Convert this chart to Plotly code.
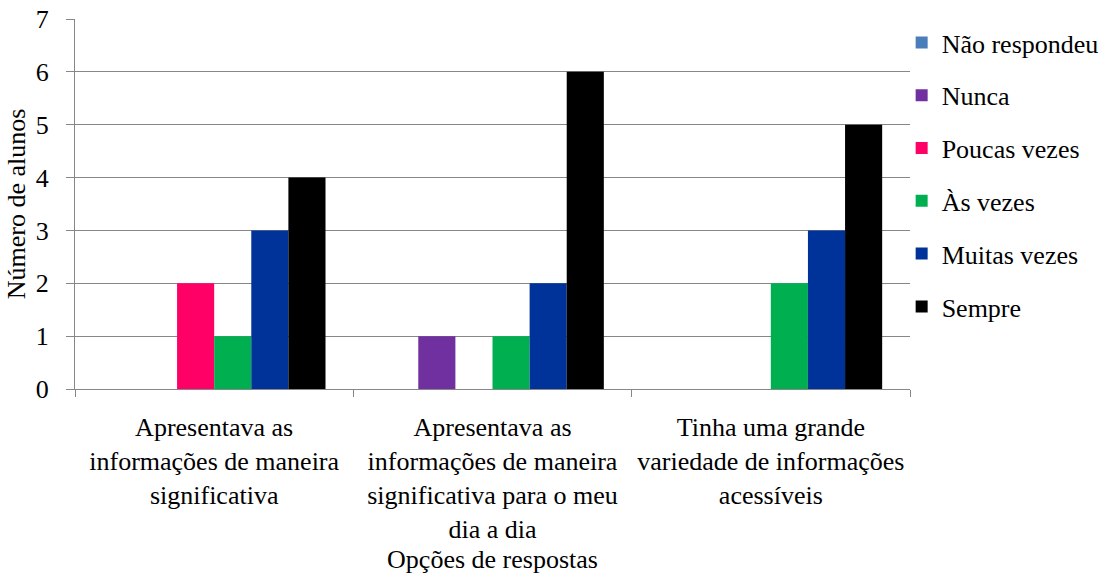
import plotly.graph_objects as go

categories = [
    "Apresentava as<br>informações de maneira<br>significativa",
    "Apresentava as<br>informações de maneira<br>significativa para o meu<br>dia a dia",
    "Tinha uma grande<br>variedade de informações<br>acessíveis",
]
series_names = ["Não respondeu", "Nunca", "Poucas vezes", "Às vezes", "Muitas vezes", "Sempre"]
nao_respondeu = [0, 0, 0]
nunca = [0, 1, 0]
poucas_vezes = [2, 0, 0]
as_vezes = [1, 1, 2]
muitas_vezes = [3, 2, 3]
sempre = [4, 6, 5]
series_values = [nao_respondeu, nunca, poucas_vezes, as_vezes, muitas_vezes, sempre]
colors = ["#4A7EBB", "#7030A0", "#FF0066", "#00B050", "#003399", "#000000"]
y_ticks = [0, 1, 2, 3, 4, 5, 6, 7]

FONT = "Liberation Serif"
GRID = "#878787"

fig = go.Figure()
for name, vals, col in zip(series_names, series_values, colors):
    fig.add_trace(go.Bar(x=categories, y=vals, name=name, marker_color=col,
                         marker_line_width=0, legendgroup=name))

fig.update_layout(
    width=1106, height=574,
    margin=dict(l=75, r=196, t=19, b=185, autoexpand=False),
    paper_bgcolor="white", plot_bgcolor="white",
    font=dict(family=FONT, size=26, color="black"),
    barmode="group", bargap=0.2, bargroupgap=0,
    hovermode=False,
    showlegend=True,
    legend=dict(x=0.99, xanchor="left", y=1.0, yanchor="top",
                font=dict(family=FONT, size=26, color="black"),
                tracegroupgap=16, bgcolor="rgba(0,0,0,0)", borderwidth=0),
    xaxis=dict(type="category", showline=True, linecolor=GRID, linewidth=1.3,
               ticks="outside", tickson="boundaries", ticklen=7, tickcolor=GRID,
               tickwidth=1.3, showgrid=False, automargin=False,
               ticklabelstandoff=15,
               tickfont=dict(family=FONT, size=26),
               title=dict(text="Opções de respostas", font=dict(family=FONT, size=26))),
    yaxis=dict(range=[0, 7], tickvals=y_ticks, showline=True, linecolor=GRID, linewidth=1.3,
               ticks="outside", ticklen=8, tickcolor=GRID, tickwidth=1.3,
               showgrid=True, gridcolor=GRID, gridwidth=1.3, zeroline=False,
               automargin=True, ticklabelstandoff=12,
               tickfont=dict(family=FONT, size=26),
               title=dict(text="Número de alunos", standoff=2,
                          font=dict(family=FONT, size=26))),
)

fig.write_html("out.html")
